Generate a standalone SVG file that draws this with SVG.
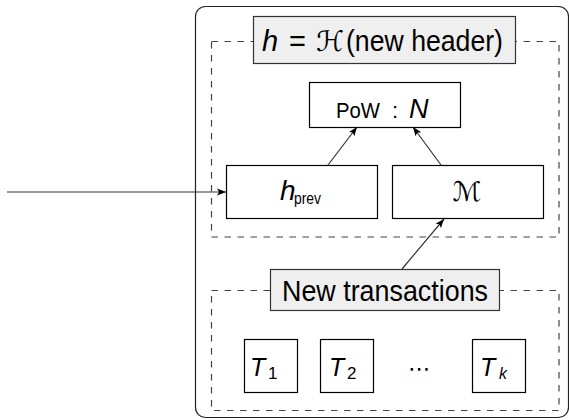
<svg xmlns="http://www.w3.org/2000/svg" width="569" height="420" viewBox="0 0 569 420">
<style>
.box{fill:#fff;stroke:#000;stroke-width:1.2}
.lbl{fill:#efefef;stroke:#333;stroke-width:1.2}
.dash{fill:none;stroke:#444;stroke-width:1.2;stroke-dasharray:6.5 6.5}
.outer{fill:none;stroke:#222;stroke-width:1.2}
.conn{stroke:#333;stroke-width:1.2;fill:none;marker-end:url(#ah)}
text{font-family:"Liberation Sans","DejaVu Sans",sans-serif;fill:#000}
.it{font-style:italic}
.sym{font-family:"DejaVu Sans",sans-serif}
</style>
<defs>
<marker id="ah" markerUnits="userSpaceOnUse" markerWidth="10" markerHeight="8" viewBox="0 0 10 8" refX="9" refY="4" orient="auto">
<path d="M0,0.5 L9,4 L0,7.5 L2,4 Z" fill="#000"/>
</marker>
</defs>
<g id="outer"><rect class="outer" x="195.5" y="6.5" width="373" height="411" rx="10"/></g>
<g id="header-group">
<rect class="dash" x="211.5" y="41.5" width="347.5" height="195.5"/>
</g>
<g id="tx-group">
<rect class="dash" x="211.5" y="290.5" width="347.5" height="120"/>
</g>
<g id="header">
<rect class="lbl" x="253.5" y="16.5" width="262" height="47"/>
<text y="51" font-size="29"><tspan class="it" x="262">h</tspan><tspan x="289">=</tspan><tspan class="sym" x="316" font-size="28">ℋ</tspan><tspan x="346" textLength="157" lengthAdjust="spacingAndGlyphs">(new header)</tspan></text>
</g>
<g id="pow">
<rect class="box" x="309.5" y="82.5" width="151" height="45"/>
<text y="118" font-size="22"><tspan x="336" textLength="44" lengthAdjust="spacingAndGlyphs">PoW</tspan><tspan x="392">:</tspan><tspan class="it" x="409" font-size="27">N</tspan></text>
</g>
<g id="hprev">
<rect class="box" x="226.5" y="165.5" width="151" height="53"/>
<text y="200"><tspan class="it" x="280" font-size="28">h</tspan><tspan x="294" y="204" font-size="16" textLength="27" lengthAdjust="spacingAndGlyphs">prev</tspan></text>
</g>
<g id="merkle">
<rect class="box" x="392.5" y="165.5" width="151" height="53"/>
<text class="sym" x="467" y="201" font-size="27" text-anchor="middle">ℳ</text>
</g>
<g id="newtx">
<rect class="lbl" x="270.5" y="269.5" width="229" height="41"/>
<text x="282" y="301" font-size="29" textLength="206" lengthAdjust="spacingAndGlyphs">New transactions</text>
</g>
<g id="t1">
<rect class="box" x="244.5" y="339.5" width="53" height="53"/>
<text y="376"><tspan class="it" x="250" font-size="25">T</tspan><tspan x="268" y="379" font-size="17">1</tspan></text>
</g>
<g id="t2">
<rect class="box" x="320.5" y="339.5" width="53" height="53"/>
<text y="376"><tspan class="it" x="329" font-size="25">T</tspan><tspan x="347" y="379" font-size="17">2</tspan></text>
</g>
<g id="dots">
<text x="419" y="376" font-size="22" text-anchor="middle" font-family="DejaVu Sans, sans-serif">⋯</text>
</g>
<g id="tk">
<rect class="box" x="472.5" y="339.5" width="53" height="53"/>
<text y="376"><tspan class="it" x="480" font-size="25">T</tspan><tspan class="it" x="499" y="379" font-size="16">k</tspan></text>
</g>
<g id="connectors">
<line class="conn" x1="7" y1="192" x2="226" y2="192"/>
<line class="conn" x1="328" y1="165" x2="357" y2="127"/>
<line class="conn" x1="441" y1="165" x2="413" y2="127"/>
<line class="conn" x1="402" y1="269" x2="444" y2="219"/>
</g>
</svg>
